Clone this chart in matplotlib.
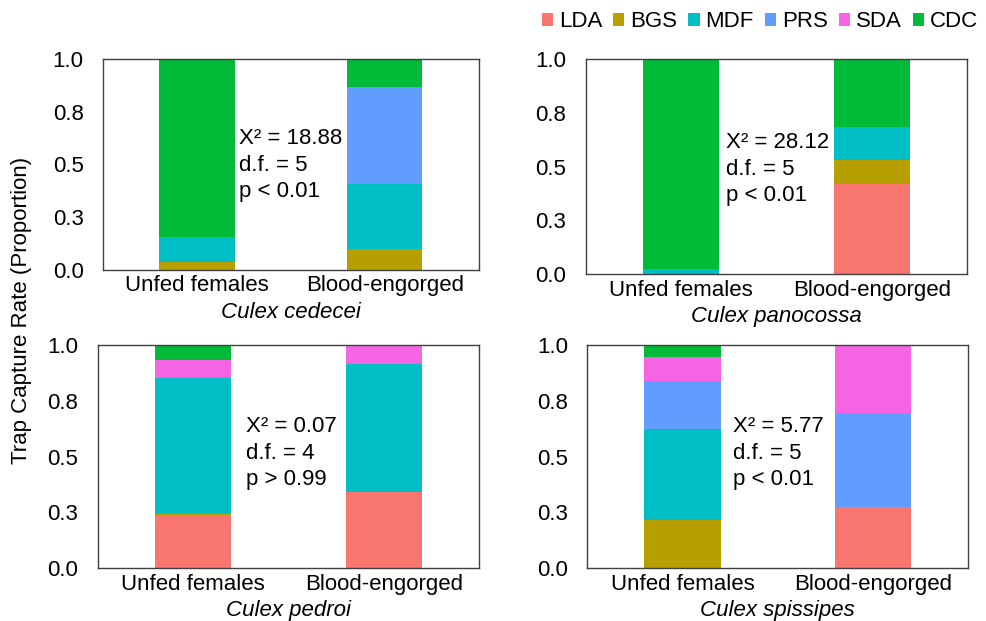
import matplotlib
matplotlib.use("Agg")
import matplotlib.pyplot as plt
from matplotlib.patches import Patch
import numpy as np

plt.rcParams['font.family'] = ['Liberation Sans', 'DejaVu Sans']

methods = ['LDA', 'BGS', 'MDF', 'PRS', 'SDA', 'CDC']
colors = ['#F8766D', '#B79F00', '#00BFC4', '#619CFF', '#F564E3', '#00BA38']
conditions = ['Unfed females', 'Blood-engorged']
species = ['Culex cedecei', 'Culex panocossa', 'Culex pedroi', 'Culex spissipes']

# proportions per method (LDA, BGS, MDF, PRS, SDA, CDC) for [unfed, blood-engorged]
cedecei = [[0.000, 0.037, 0.116, 0.000, 0.000, 0.847],
           [0.000, 0.098, 0.310, 0.459, 0.000, 0.133]]
panocossa = [[0.000, 0.000, 0.023, 0.000, 0.000, 0.977],
             [0.419, 0.111, 0.156, 0.000, 0.000, 0.314]]
pedroi = [[0.237, 0.004, 0.613, 0.000, 0.080, 0.066],
          [0.342, 0.000, 0.574, 0.000, 0.084, 0.000]]
spissipes = [[0.000, 0.216, 0.406, 0.217, 0.109, 0.052],
             [0.274, 0.000, 0.000, 0.421, 0.305, 0.000]]

chi2 = ['18.88', '28.12', '0.07', '5.77']
dfs = ['5', '5', '4', '5']
pvals = ['p < 0.01', 'p < 0.01', 'p > 0.99', 'p < 0.01']

yticks = [0.0, 0.25, 0.5, 0.75, 1.0]
yticklabels = ['0.0', '0.3', '0.5', '0.8', '1.0']

data_all = [cedecei, panocossa, pedroi, spissipes]

fig = plt.figure(figsize=(9.86, 6.21), dpi=100)
positions = [
    [0.1045, 0.566, 0.381, 0.3385],
    [0.594, 0.5588, 0.387, 0.3457],
    [0.0991, 0.0849, 0.387, 0.3596],
    [0.5956, 0.0849, 0.3864, 0.3596],
]
text_pos = [(0.223, 0.497), (0.238, 0.488), (0.277, 0.515), (0.266, 0.515)]

fs = 16
for i, (pos, sp, d) in enumerate(zip(positions, species, data_all)):
    ax = fig.add_axes(pos)
    arr = np.array(d)
    x = np.arange(len(conditions))
    bottom = np.zeros(len(conditions))
    for j, m in enumerate(methods):
        vals = arr[:, j]
        ax.bar(x, vals, width=0.4, bottom=bottom, color=colors[j], linewidth=0)
        bottom += vals
    ax.set_xlim(-0.5, 1.5)
    ax.set_ylim(0, 1.0)
    ax.set_yticks(yticks)
    ax.set_yticklabels(yticklabels)
    ax.set_xticks(x)
    ax.set_xticklabels(conditions)
    ax.tick_params(axis='both', length=0, labelsize=fs, colors='#000000')
    ax.tick_params(axis='y', pad=14)
    ax.tick_params(axis='x', pad=4)
    ax.set_xlabel(sp, fontstyle='italic', fontsize=fs, labelpad=4)
    for s in ax.spines.values():
        s.set_color('#404040')
        s.set_linewidth(1.0)
    tx, ty = text_pos[i]
    ax.text(tx, ty, 'X\u00b2 = %s\nd.f. = %s\n%s' % (chi2[i], dfs[i], pvals[i]),
            fontsize=fs, ha='left', va='center', linespacing=1.35)

fig.text(0.022, 0.5, 'Trap Capture Rate (Proportion)', rotation=90,
         ha='center', va='center', fontsize=fs)

handles = [Patch(facecolor=c, edgecolor='none') for c in colors]
fig.legend(handles, methods, loc='center', bbox_to_anchor=(0.7708, 0.9646),
           ncol=6, frameon=False, fontsize=fs, handlelength=0.5, handleheight=0.5,
           handletextpad=0.27, columnspacing=0.5, borderpad=0, borderaxespad=0)

fig.savefig('out.png', dpi=100)
